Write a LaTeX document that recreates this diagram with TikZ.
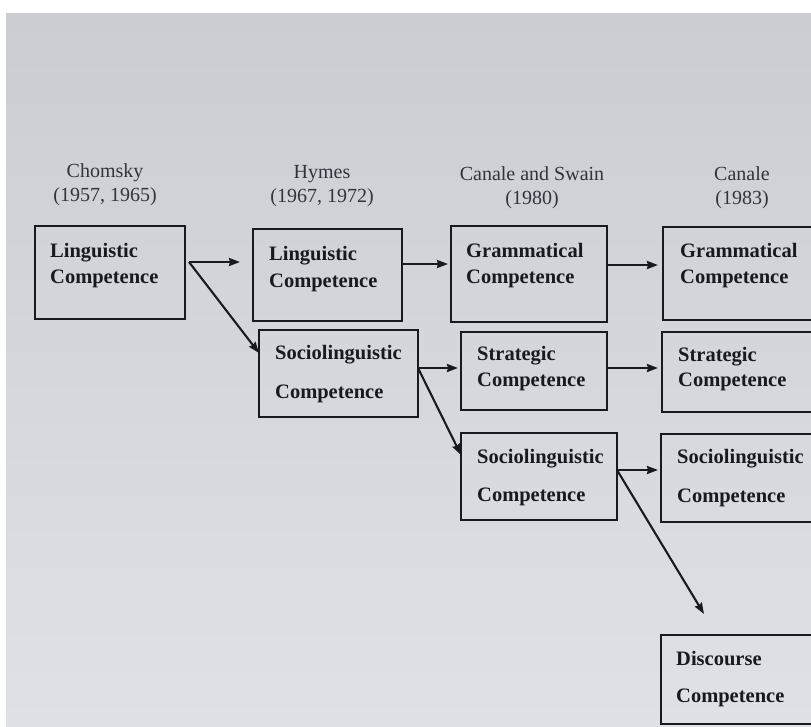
\documentclass[tikz,border=0pt]{standalone}
\usepackage{fontspec}
\setmainfont{Liberation Serif}
\usetikzlibrary{arrows.meta,calc}
\definecolor{ink}{RGB}{24,26,32}
\definecolor{headink}{RGB}{50,52,60}
\definecolor{bgT}{RGB}{204,205,211}
\definecolor{bgB}{RGB}{224,225,230}
\tikzset{
  box/.style={draw=ink, line width=2.6pt, rectangle, anchor=north west, inner sep=0pt, outer sep=0pt},
  head/.style={anchor=base, inner sep=0pt, text=headink, font=\fontsize{20}{24}\selectfont},
  btxt/.style={anchor=base west, inner sep=0pt, text=ink, font=\fontsize{20.5}{24}\selectfont\bfseries},
  arr/.style={draw=ink, line width=2.1pt, -{Stealth[length=11pt,width=8pt,inset=1pt]}},
}
\begin{document}
\begin{tikzpicture}[x=1pt,y=-1pt]
\useasboundingbox (0,0) rectangle (811,726);
\clip (0,0) rectangle (811,726);
\fill[white] (0,0) rectangle (811,726);
\shade[top color=bgT, bottom color=bgB] (6,13) rectangle (811,726);

% headings
\node[head] (h1a) at (105,177) {Chomsky};
\node[head] (h1b) at (105,201) {(1957, 1965)};
\node[head] (h2a) at (322,178) {Hymes};
\node[head] (h2b) at (322,202) {(1967, 1972)};
\node[head] (h3a) at (532,180) {Canale and Swain};
\node[head] (h3b) at (532,204) {(1980)};
\node[head] (h4a) at (742,180) {Canale};
\node[head] (h4b) at (742,204) {(1983)};

% boxes
\node[box, minimum width=150pt, minimum height=93pt] (chL) at (35,226) {};
\node[box, minimum width=149pt, minimum height=92pt] (hyL) at (253,229) {};
\node[box, minimum width=159pt, minimum height=87pt] (hyS) at (259,330) {};
\node[box, minimum width=156pt, minimum height=96pt] (csG) at (451,226) {};
\node[box, minimum width=146pt, minimum height=78pt] (csS) at (461,332) {};
\node[box, minimum width=156pt, minimum height=87pt] (csSo) at (461,433) {};
\node[box, minimum width=170pt, minimum height=93pt] (caG) at (663,227) {};
\node[box, minimum width=170pt, minimum height=80pt] (caS) at (662,332) {};
\node[box, minimum width=170pt, minimum height=88pt] (caSo) at (661,434) {};
\node[box, minimum width=170pt, minimum height=89pt] (disc) at (661,635) {};

% box texts
\node[btxt] (t1a) at (50,257) {Linguistic};
\node[btxt] (t1b) at (50,283) {Competence};
\node[btxt] (t2a) at (269,260) {Linguistic};
\node[btxt] (t2b) at (269,287) {Competence};
\node[btxt] (t3a) at (275,359) {Sociolinguistic};
\node[btxt] (t3b) at (275,398) {Competence};
\node[btxt] (t4a) at (466,257) {Grammatical};
\node[btxt] (t4b) at (466,283) {Competence};
\node[btxt] (t5a) at (477,360) {Strategic};
\node[btxt] (t5b) at (477,386) {Competence};
\node[btxt] (t6a) at (477,463) {Sociolinguistic};
\node[btxt] (t6b) at (477,501) {Competence};
\node[btxt] (t7a) at (680,257) {Grammatical};
\node[btxt] (t7b) at (680,283) {Competence};
\node[btxt] (t8a) at (678,361) {Strategic};
\node[btxt] (t8b) at (678,386) {Competence};
\node[btxt] (t9a) at (677,463) {Sociolinguistic};
\node[btxt] (t9b) at (677,502) {Competence};
\node[btxt] (t10a) at (676,665) {Discourse};
\node[btxt] (t10b) at (676,702) {Competence};

% fork points
\coordinate (f1) at ([xshift=4pt]chL.east |- 0,262);
\coordinate (f2) at (hyS.east |- 0,368);
\coordinate (f3) at (csSo.east |- 0,470);

% connectors
\draw[arr, shorten >=13pt] (f1) -- (f1 -| hyL.west);
\draw[arr] (f1) -- ([yshift=-23pt]hyS.north west);
\draw[arr, shorten >=3pt] (hyL.east |- 0,264) -- (csG.west |- 0,264);
\draw[arr, shorten >=5pt] (csG.east |- 0,265) -- (caG.west |- 0,265);
\draw[arr, shorten >=3pt] (f2) -- (f2 -| csS.west);
\draw[arr] (f2) -- ([yshift=-22pt]csSo.north west);
\draw[arr, shorten >=4pt] (csS.east |- 0,368) -- (caS.west |- 0,368);
\draw[arr, shorten >=3pt] (f3) -- (f3 -| caSo.west);
\draw[arr] (f3) -- ([xshift=43pt,yshift=21pt]disc.north west);
\end{tikzpicture}
\end{document}
